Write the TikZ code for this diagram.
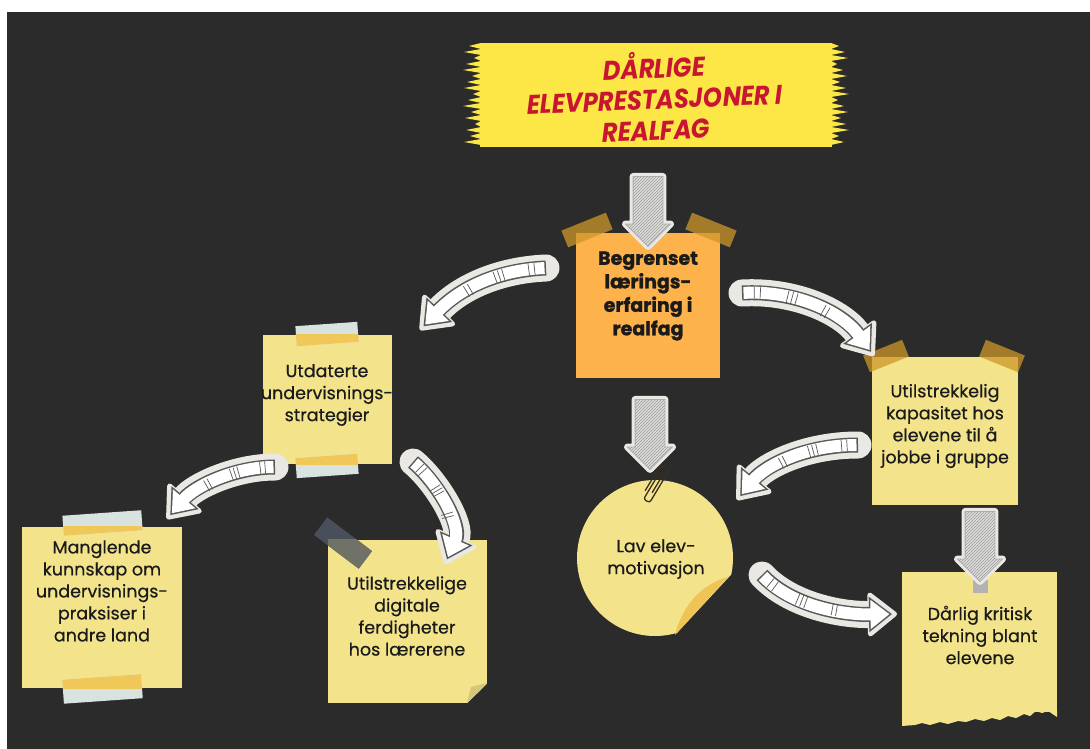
\documentclass[tikz,border=0pt]{standalone}
\usepackage{fontspec}
\setmainfont{Poppins}
\newfontfamily\notefont{Poppins}[FakeBold=0.5]
\newfontfamily\headfont{Poppins}[FakeBold=1.2]
\usetikzlibrary{arrows.meta,shapes.arrows,patterns,decorations.markings}

\definecolor{board}{RGB}{43,43,43}
\definecolor{notey}{RGB}{243,228,140}
\definecolor{orangey}{RGB}{253,178,76}
\definecolor{tapetan}{RGB}{205,150,40}
\definecolor{tapeblue}{RGB}{216,226,222}
\definecolor{tapegold}{RGB}{240,200,90}
\definecolor{tapedark}{RGB}{72,78,90}
\definecolor{tapedarkon}{RGB}{112,114,104}
\definecolor{sticker}{RGB}{234,232,226}
\definecolor{outl}{RGB}{88,88,88}
\definecolor{hatchbg}{RGB}{222,222,220}
\definecolor{banner}{RGB}{252,231,70}
\definecolor{titlered}{RGB}{200,22,50}
\definecolor{curl}{RGB}{240,196,84}
\definecolor{fold}{RGB}{212,200,120}
\definecolor{ink}{RGB}{26,26,26}
\definecolor{wire}{RGB}{58,46,34}

\tikzset{
  note/.style={rectangle, fill=notey, inner sep=0pt},
  txt/.style={align=center, inner sep=0pt, text=ink, font=\notefont\fontsize{17.5}{22}\selectfont},
  titletxt/.style={align=center, inner sep=0pt, text=titlered,
    font=\fontsize{27}{31}\selectfont\bfseries\itshape, xscale=.9, rotate=2},
  downarrow/.style={single arrow, shape border rotate=270, inner xsep=14.5pt, inner ysep=0pt,
    minimum width=44pt, single arrow head extend=7.5pt, minimum height=70pt,
    preaction={draw=sticker, line width=7pt, line join=round},
    preaction={fill=hatchbg},
    draw=gray!60, line width=.8pt,
    postaction={pattern=north east lines, pattern color=gray!80}},
  stripe/.style={draw=outl, line width=.7pt, -, shorten >=0pt, shorten <=0pt},
  curvy/.style={
    preaction={draw=sticker, line width=27pt, line cap=round, shorten >=0pt, shorten <=0pt,
      -{Triangle[length=31pt,width=48pt,line width=5pt,round]}},
    preaction={draw=outl, line width=15pt, shorten >=5pt, shorten <=0pt,
      -{Triangle[length=23pt,width=34pt]}},
    draw=white, line width=12pt, shorten >=7.5pt, shorten <=1.5pt,
    -{Triangle[length=19pt,width=28pt]},
    postaction={decorate, decoration={markings,
      mark=at position .08 with {\draw[stripe] (0pt,-6pt) -- (0pt,6pt);},
      mark=at position .12 with {\draw[stripe] (0pt,-6pt) -- (0pt,6pt);},
      mark=at position .30 with {\draw[stripe] (0pt,-6pt) -- (0pt,6pt);},
      mark=at position .33 with {\draw[stripe] (0pt,-6pt) -- (0pt,6pt);},
      mark=at position .36 with {\draw[stripe] (0pt,-6pt) -- (0pt,6pt);},
      mark=at position .55 with {\draw[stripe] (0pt,-6pt) -- (0pt,6pt);},
      mark=at position .58 with {\draw[stripe] (0pt,-6pt) -- (0pt,6pt);}}}}
}

\begin{document}
\begin{tikzpicture}[x=1pt, y=-1pt]
\useasboundingbox (0,0) rectangle (1090,749);
% chalkboard
\fill[board] (7,12) rectangle (1090,749);

% title banner
\fill[banner] (480,43) rectangle (832,147);
\foreach \y/\l/\r in {43/12/8, 49/17/14, 55/7/17, 61/15/6, 67/18/12, 73/9/16,
    79/14/9, 85/17/15, 91/8/18, 97/13/7, 103/18/13, 109/10/17, 115/16/10,
    121/6/15, 127/15/18, 133/11/8, 139/17/13} {
  \fill[banner] (481,\y) -- (481-\l,\y+3) -- (481,\y+6) -- cycle;
  \fill[banner] (831,\y) -- (831+\r,\y+3) -- (831,\y+6) -- cycle;
}
\node[titletxt] (title) at (655,96) {DÅRLIGE\\ELEVPRESTASJONER I\\REALFAG};

% root note
\node[note, fill=orangey, minimum width=144pt, minimum height=145pt] (beg) at (648,305.5) {};
\fill[tapetan, opacity=.75, rotate around={22:(587,230)}] (563,221) rectangle (611,239);
\fill[tapetan, opacity=.75, rotate around={-22:(711,230)}] (687,221) rectangle (735,239);
\node[txt, font=\headfont\fontsize{19}{23.5}\selectfont\bfseries] (begtxt) at (648,296)
  {Begrenset\\lærings-\\erfaring i\\realfag};

% left branch
\node[note, minimum width=129pt, minimum height=129pt] (utd) at (327.5,399.5) {};
\fill[tapeblue, rotate around={4:(327,334)}] (296,324) rectangle (358,344);
\fill[tapeblue, rotate around={4:(327,466)}] (296,456) rectangle (358,476);
\begin{scope}
  \clip (utd.north west) rectangle (utd.south east);
  \fill[tapegold, rotate around={4:(327,334)}] (296,324) rectangle (358,344);
  \fill[tapegold, rotate around={4:(327,466)}] (296,456) rectangle (358,476);
\end{scope}
\node[txt] (utdtxt) at (327,395) {Utdaterte\\undervisnings-\\strategier};

\node[note, minimum width=160pt, minimum height=161pt] (man) at (102,607.5) {};
\fill[tapeblue, rotate around={4:(102,523)}] (63,513) rectangle (142,533);
\fill[tapeblue, rotate around={4:(102,689)}] (63,677) rectangle (142,701);
\begin{scope}
  \clip (man.north west) rectangle (man.south east);
  \fill[tapegold, rotate around={4:(102,523)}] (63,513) rectangle (142,533);
  \fill[tapegold, rotate around={4:(102,689)}] (63,677) rectangle (142,701);
\end{scope}
\node[txt] (mantxt) at (102,591) {Manglende\\kunnskap om\\undervisnings-\\praksiser i\\andre land};

\node[note, minimum width=159pt, minimum height=163pt] (dig) at (407.5,621.5) {};
\fill[board] (467,703.5) -- (488,703.5) -- (488,683) -- cycle;
\fill[fold] (467,703) -- (487,683) -- (471,687) -- cycle;
\fill[tapedark, rotate around={-37:(343,543)}] (315,532) rectangle (371,554);
\begin{scope}
  \clip (dig.north west) rectangle (dig.south east);
  \fill[tapedarkon, rotate around={-37:(343,543)}] (315,532) rectangle (371,554);
\end{scope}
\node[txt] (digtxt) at (407,616) {Utilstrekkelige\\digitale\\ferdigheter\\hos lærerene};

% right branch
\node[note, minimum width=146pt, minimum height=148pt] (kap) at (945,431) {};
\fill[tapetan, opacity=.75, rotate around={22:(886,356)}] (865,347) rectangle (907,365);
\fill[tapetan, opacity=.75, rotate around={-22:(1002,356)}] (981,347) rectangle (1023,365);
\node[txt] (kaptxt) at (945,426) {Utilstrekkelig\\kapasitet hos\\elevene til å\\jobbe i gruppe};

\node[note, minimum width=155pt, minimum height=140pt] (darl) at (979.5,642) {};
\fill[notey] (902,711) -- (902,726) -- (915,725) -- (922,723) -- (930,725) -- (940,722)
  -- (948,724) -- (958,721) -- (966,722) -- (975,719) -- (984,721) -- (992,718)
  -- (1000,720) -- (1008,716) -- (1016,718) -- (1024,714) -- (1030,716) -- (1036,711)
  -- (1042,713) -- (1048,711) -- (1057,717) -- (1057,711) -- cycle;
\fill[gray!60] (973,580) rectangle (988,593);
\node[txt] (darltxt) at (980,635) {Dårlig kritisk\\tekning blant\\elevene};

% circle note
\begin{scope}
  \clip (560,460) -- (760,460) -- (760,543.6) -- (651.8,660) -- (560,660) -- cycle;
  \node[circle, fill=notey, minimum size=156pt, inner sep=0pt] (lav) at (655,558) {};
\end{scope}
\fill[curl] (728,577) .. controls (706,583) and (684,600) .. (675,635) -- cycle;
\node[txt] (lavtxt) at (656,559) {Lav elev-\\motivasjon};

% straight arrows
\node[downarrow] (arrBeg) at (648,204) {};
\node[downarrow] (arrLav) at (650,427) {};
\node[downarrow] (arrDarl) at (980,539) {};

% paperclip
\begin{scope}[shift={(655,485)}, rotate=-31]
  \draw[wire, line width=1.3pt, rounded corners=2.5pt] (1.5,8) -- (1.5,-12) -- (-2.5,-12)
    -- (-2.5,18) -- (4.5,18) -- (4.5,-20) -- (-5.5,-20) -- (-5.5,10);
\end{scope}

% curved arrows
\coordinate (begUtdA) at (546,268);
\coordinate (begUtdB) at (420,330);
\coordinate (begKapA) at (742,293);
\coordinate (begKapB) at (874,356);
\coordinate (utdManA) at (275,467);
\coordinate (utdManB) at (167,519);
\coordinate (utdDigA) at (413,462);
\coordinate (utdDigB) at (445,564);
\coordinate (kapLavA) at (858,445);
\coordinate (kapLavB) at (737,500);
\coordinate (lavDarA) at (762,575);
\coordinate (lavDarB) at (897,614);
\draw[curvy] (begUtdA) .. controls (498,270) and (460,288) .. (begUtdB);
\draw[curvy] (begKapA) .. controls (795,290) and (842,312) .. (begKapB);
\draw[curvy] (utdManA) .. controls (235,467) and (195,486) .. (utdManB);
\draw[curvy] (utdDigA) .. controls (437,482) and (462,525) .. (utdDigB);
\draw[curvy] (kapLavA) .. controls (805,445) and (765,466) .. (kapLavB);
\draw[curvy] (lavDarA) .. controls (790,605) and (840,615) .. (lavDarB);
\end{tikzpicture}
\end{document}
